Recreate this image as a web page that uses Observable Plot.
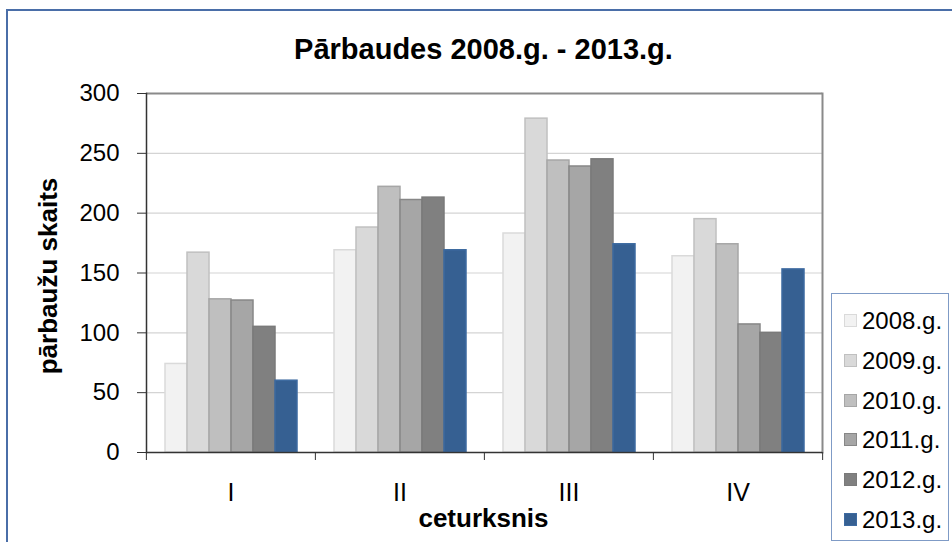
<!DOCTYPE html>
<html><head><meta charset="utf-8">
<script src="https://cdn.jsdelivr.net/npm/d3@7"></script>
<script src="https://cdn.jsdelivr.net/npm/@observablehq/plot@0.6"></script>
<style>
body{margin:0;background:#fff;font-family:"Liberation Sans",Arial,sans-serif;color:#000;}
#wrap{position:relative;width:952px;height:542px;overflow:hidden;background:#fff;}
#border{position:absolute;left:6px;top:9px;width:1000px;height:600px;border-left:2px solid #4a6ea8;border-top:2px solid #4a6ea8;}
#chart{position:absolute;left:0;top:0;}
#title{position:absolute;left:145px;width:677px;top:35px;line-height:29px;text-align:center;font-weight:bold;font-size:29px;white-space:nowrap;}
#ylab{position:absolute;left:-102px;top:261px;width:300px;line-height:30px;text-align:center;font-weight:bold;font-size:26px;transform:rotate(-90deg);white-space:nowrap;}
#xlab{position:absolute;left:145px;width:677px;top:505px;line-height:26px;text-align:center;font-weight:bold;font-size:26px;}
#legend{position:absolute;left:831px;top:293px;width:116px;height:246px;border:1px solid #7f9bc6;background:#fff;}
.item{position:absolute;left:0;height:30px;line-height:30px;font-size:24px;white-space:nowrap;}
.sw{position:absolute;left:12px;top:8px;width:11px;height:11px;border:1.5px solid #999;}
.lt{position:absolute;left:30px;top:0;}
</style></head>
<body>
<div id="wrap">
  <div id="border"></div>
  <div id="chart"></div>
  <div id="title">Pārbaudes 2008.g. - 2013.g.</div>
  <div id="ylab">pārbaužu skaits</div>
  <div id="xlab">ceturksnis</div>
  <div id="legend"></div>
</div>
<script>
// ---- data ----
const quarters = ["I", "II", "III", "IV"];
const years = ["2008.g.", "2009.g.", "2010.g.", "2011.g.", "2012.g.", "2013.g."];
const v2008 = [74, 169, 183, 164];
const v2009 = [167, 188, 279, 195];
const v2010 = [128, 222, 244, 174];
const v2011 = [127, 211, 239, 107];
const v2012 = [105, 213, 245, 100];
const v2013 = [60, 169, 174, 153];
const yTicks = [0, 50, 100, 150, 200, 250, 300];

// ---- styles ----
const fills = ["#f2f2f2", "#d9d9d9", "#bfbfbf", "#a6a6a6", "#808080", "#366092"];
const strokes = ["#dadada", "#c0c0c0", "#a6a6a6", "#878787", "#7a7a7a", "#3d6aa0"];

const series = [v2008, v2009, v2010, v2011, v2012, v2013];
const table = [];
years.forEach((yr, i) => quarters.forEach((q, j) => table.push({quarter: q, year: yr, value: series[i][j]})));

const W = 952, H = 542, mL = 145, mR = 130, mT = 93, mB = 90;
const halfFacet = (W - mL - mR) / quarters.length / 2;

const chart = Plot.plot({
  width: W, height: H,
  marginLeft: mL, marginRight: mR, marginTop: mT, marginBottom: mB,
  style: {fontFamily: "Liberation Sans, Arial, sans-serif", fontSize: "24px", color: "#000", background: "transparent"},
  fx: {domain: quarters, paddingInner: 0, paddingOuter: 0, label: null},
  x: {domain: years, paddingInner: 0, paddingOuter: 0.75, axis: null},
  y: {domain: [0, 300], label: null},
  marks: [
    Plot.gridY(yTicks.filter(t => t > 0 && t < 300), {stroke: "#d4d4d4", strokeOpacity: 1, strokeWidth: 1.2}),
    ...years.map((yr, i) => Plot.barY(table.filter(d => d.year === yr), {
      fx: "quarter", x: "year", y: "value",
      fill: fills[i], stroke: strokes[i], strokeWidth: 1.5, inset: 0
    })),
    Plot.ruleY([300], {stroke: "#8a8a8a", strokeWidth: 2}),
    Plot.frame({anchor: "right", facetAnchor: "right", stroke: "#8a8a8a", strokeWidth: 2}),
    Plot.frame({anchor: "left", facetAnchor: "left", stroke: "#333", strokeWidth: 1.5}),
    Plot.ruleY([0], {stroke: "#333", strokeWidth: 1.5}),
    Plot.axisY(yTicks, {tickSize: 9, tickPadding: 18, stroke: "#333", label: null, fontSize: 24}),
    Plot.axisFx({anchor: "bottom", tickSize: 0, tickPadding: 31, label: null, fontSize: 25}),
    Plot.axisFx({anchor: "bottom", tickSize: 8, tickFormat: () => "", label: null, dx: -halfFacet, stroke: "#333"}),
    Plot.axisFx({anchor: "bottom", ticks: ["IV"], tickSize: 8, tickFormat: () => "", label: null, dx: halfFacet, stroke: "#333"})
  ]
});
document.getElementById("chart").appendChild(chart);

// ---- legend ----
const legend = document.getElementById("legend");
years.forEach((yr, i) => {
  const it = document.createElement("div");
  it.className = "item";
  it.style.top = (12 + i * 39.8) + "px";
  const sw = document.createElement("span");
  sw.className = "sw";
  sw.style.background = fills[i];
  sw.style.borderColor = strokes[i];
  const t = document.createElement("span");
  t.className = "lt";
  t.textContent = yr;
  it.appendChild(sw); it.appendChild(t);
  legend.appendChild(it);
});
</script>
</body></html>
